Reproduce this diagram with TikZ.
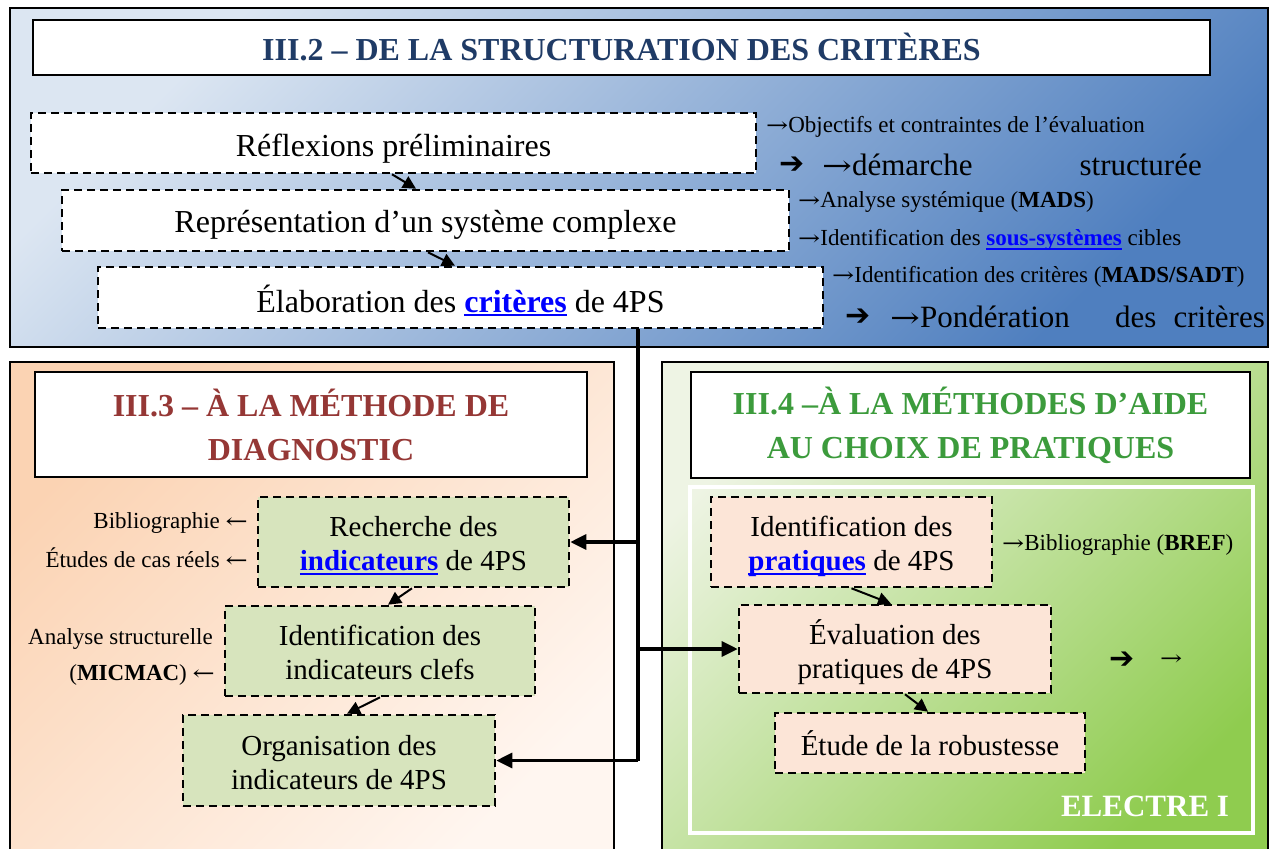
\documentclass[tikz,border=0pt]{standalone}
\usepackage{fontspec}
\setmainfont{Liberation Serif}
\newfontfamily\djv{DejaVu Sans}
\newfontfamily\djs{DejaVu Serif}
\usetikzlibrary{arrows.meta}
\definecolor{navy}{HTML}{1F3B66}
\definecolor{dred}{HTML}{953735}
\definecolor{tgreen}{HTML}{3C9B3C}
\definecolor{linkblue}{HTML}{0000FF}
\definecolor{bluetl}{HTML}{DCE6F2}
\definecolor{bluebr}{HTML}{4F7FBF}
\definecolor{peachtl}{HTML}{FBD3B3}
\definecolor{peachbr}{HTML}{FFF6F0}
\definecolor{greentl}{HTML}{EEF4E4}
\definecolor{greenbr}{HTML}{8FCC4F}
\definecolor{boxgreen}{HTML}{D7E4BD}
\definecolor{boxpeach}{HTML}{FCE5D7}
\newcommand\lnk[1]{\textcolor{linkblue}{\setbox0\hbox{\bfseries #1}\rlap{\rule[-4pt]{\wd0}{2pt}}\box0}}
\newcommand\harr{{\djv\fontsize{30}{30}\selectfont ➔}}
\newcommand\ra{{\djs\scalebox{1.15}[0.9]{→}}}
\newcommand\la{{\djs\scalebox{1.15}[0.9]{←}}}
\newcommand\dn[2]{\raisebox{0pt}[\dimexpr\height+#1\relax][\depth]{#2}}
\newcommand\twol[2]{\dn{10pt}{\begin{tabular}{@{}c@{}}#1\\#2\end{tabular}}}
\begin{document}
\begin{tikzpicture}[x=1pt,y=-1pt,
  ttl/.style={draw=black, line width=2pt, fill=white, align=center, inner sep=0,
    font=\fontsize{32}{44}\selectfont\bfseries},
  dbox/.style={draw=black, line width=2.6pt, dash pattern=on 8pt off 5pt, align=center, inner sep=0},
  bigtxt/.style={font=\fontsize{32}{34}\selectfont},
  midtxt/.style={font=\fontsize{29}{34}\selectfont},
  small/.style={inner sep=0, font=\fontsize{23}{36}\selectfont},
  lbl/.style={inner sep=0, font=\fontsize{31}{34}\selectfont},
  sarr/.style={line width=2pt, -{Triangle[length=13pt,width=13pt]}},
  conn/.style={line width=3.2pt, -{Triangle[length=16pt,width=15pt]}}]
\useasboundingbox (0,0) rectangle (1273,848);
\fill[white] (0,0) rectangle (1273,848);
% panels
\shade[top color=bluetl, bottom color=bluebr, shading angle=45] (10,8) rectangle (1268,347);
\draw[line width=2pt] (10,8) rectangle (1268,347);
\shade[top color=peachtl, bottom color=peachbr, shading angle=45] (10,362) rectangle (614,860);
\draw[line width=2pt] (10,860) -- (10,362) -- (614,362) -- (614,860);
\shade[top color=greentl, bottom color=greenbr, shading angle=45] (662,362) rectangle (1268,860);
\draw[line width=2pt] (662,860) -- (662,362) -- (1268,362) -- (1268,860);
\draw[white, line width=4.5pt] (690,487) rectangle (1253,833);
% titles
\node[ttl, text=navy, minimum width=1177pt, minimum height=55pt] (t2) at (621.5,47.5) {III.2 – DE LA STRUCTURATION DES CRITÈRES};
\node[ttl, text=dred, minimum width=552pt, minimum height=105pt] (t3) at (311,424.5) {III.3 – À LA MÉTHODE DE\\DIAGNOSTIC};
\node[ttl, text=tgreen, minimum width=559pt, minimum height=106pt] (t4) at (970.5,425) {III.4 –À LA MÉTHODES D’AIDE\\AU CHOIX DE PRATIQUES};
% top boxes
\node[dbox, bigtxt, fill=white, minimum width=725pt, minimum height=60pt] (b1) at (393.5,143) {\dn{12pt}{Réflexions préliminaires}};
\node[dbox, bigtxt, fill=white, minimum width=727pt, minimum height=61pt] (b2) at (425.5,220.5) {\dn{8pt}{Représentation d’un système complexe}};
\node[dbox, bigtxt, fill=white, minimum width=725pt, minimum height=61pt] (b3) at (460.5,297.5) {\dn{6pt}{Élaboration des \lnk{critères} de 4PS}};
\draw[sarr] ([xshift=-1.5pt]b1.south) -- ([xshift=-9.5pt]b2.north);
\draw[sarr] ([xshift=2.5pt]b2.south) -- ([xshift=-5.5pt]b3.north);
% top right texts
\node[small, anchor=west] (o1) at (766,127) {\ra Objectifs et contraintes de l’évaluation};
\node[inner sep=0, anchor=west] (h1) at (779,165) {\harr};
\node[lbl, anchor=west] (o2) at (822,165) {\ra démarche};
\node[lbl, anchor=east] (o3) at (1202,165) {structurée};
\node[small, anchor=west] (o4) at (798,202) {\ra Analyse systémique (\textbf{MADS})};
\node[small, anchor=west] (o5) at (798,240) {\ra Identification des \lnk{sous-systèmes} cibles};
\node[small, anchor=west] (o6) at (832,277) {\ra Identification des critères (\textbf{MADS/SADT})};
\node[inner sep=0, anchor=west] (h2) at (845,317) {\harr};
\node[lbl, anchor=west] (o7) at (890,317) {\ra Pondération};
\node[lbl, anchor=west] (o8) at (1115,317) {des};
\node[lbl, anchor=east] (o9) at (1265,317) {critères};
% left panel boxes
\node[dbox, midtxt, fill=boxgreen, minimum width=311pt, minimum height=90pt] (rech) at (413.5,542) {\twol{Recherche des}{\lnk{indicateurs} de 4PS}};
\node[dbox, midtxt, fill=boxgreen, minimum width=310pt, minimum height=90pt] (clef) at (380,651) {\twol{Identification des}{indicateurs clefs}};
\node[dbox, midtxt, fill=boxgreen, minimum width=312pt, minimum height=91pt] (orga) at (339,760.5) {\twol{Organisation des}{indicateurs de 4PS}};
\draw[sarr] ([xshift=-1.5pt]rech.south) -- ([xshift=8pt]clef.north);
\draw[sarr] (clef.south) -- ([xshift=8pt]orga.north);
\node[small, anchor=east] (l1) at (248,523) {Bibliographie \la};
\node[small, anchor=east] (l2) at (248,558) {Études de cas réels \la};
\node[small, anchor=east] (l3) at (213,639) {Analyse structurelle};
\node[small, anchor=east] (l4) at (215,675) {(\textbf{MICMAC}) \la};
% right panel boxes
\node[dbox, midtxt, fill=boxpeach, minimum width=281pt, minimum height=90pt] (prat) at (851.5,542) {\twol{Identification des}{\lnk{pratiques} de 4PS}};
\node[dbox, midtxt, fill=boxpeach, minimum width=312pt, minimum height=88pt] (eval) at (895,649) {\twol{Évaluation des}{pratiques de 4PS}};
\node[dbox, midtxt, fill=boxpeach, minimum width=310pt, minimum height=60pt] (etude) at (930,743) {Étude de la robustesse};
\draw[sarr] (prat.south) -- ([xshift=-4pt]eval.north);
\draw[sarr] ([xshift=10pt]eval.south) -- ([xshift=-2pt]etude.north);
\node[small, anchor=west] (r1) at (1002,545) {\ra Bibliographie (\textbf{BREF})};
\node[inner sep=0, anchor=west] (h3) at (1109,660) {\harr};
\node[small, anchor=west] (r2) at (1160,660) {\ra};
\node[inner sep=0, text=white, font=\fontsize{31}{34}\selectfont\bfseries] (el) at (1145,806) {ELECTRE I};
% trunk connector
\coordinate (tk) at (638,0);
\draw[line width=3.2pt] (b3.south -| tk) -- (tk |- orga.east);
\draw[conn] (tk |- orga.east) -- (orga.east);
\draw[conn] (tk |- rech.east) -- (rech.east);
\draw[conn] (tk |- eval.west) -- (eval.west);
\end{tikzpicture}
\end{document}
